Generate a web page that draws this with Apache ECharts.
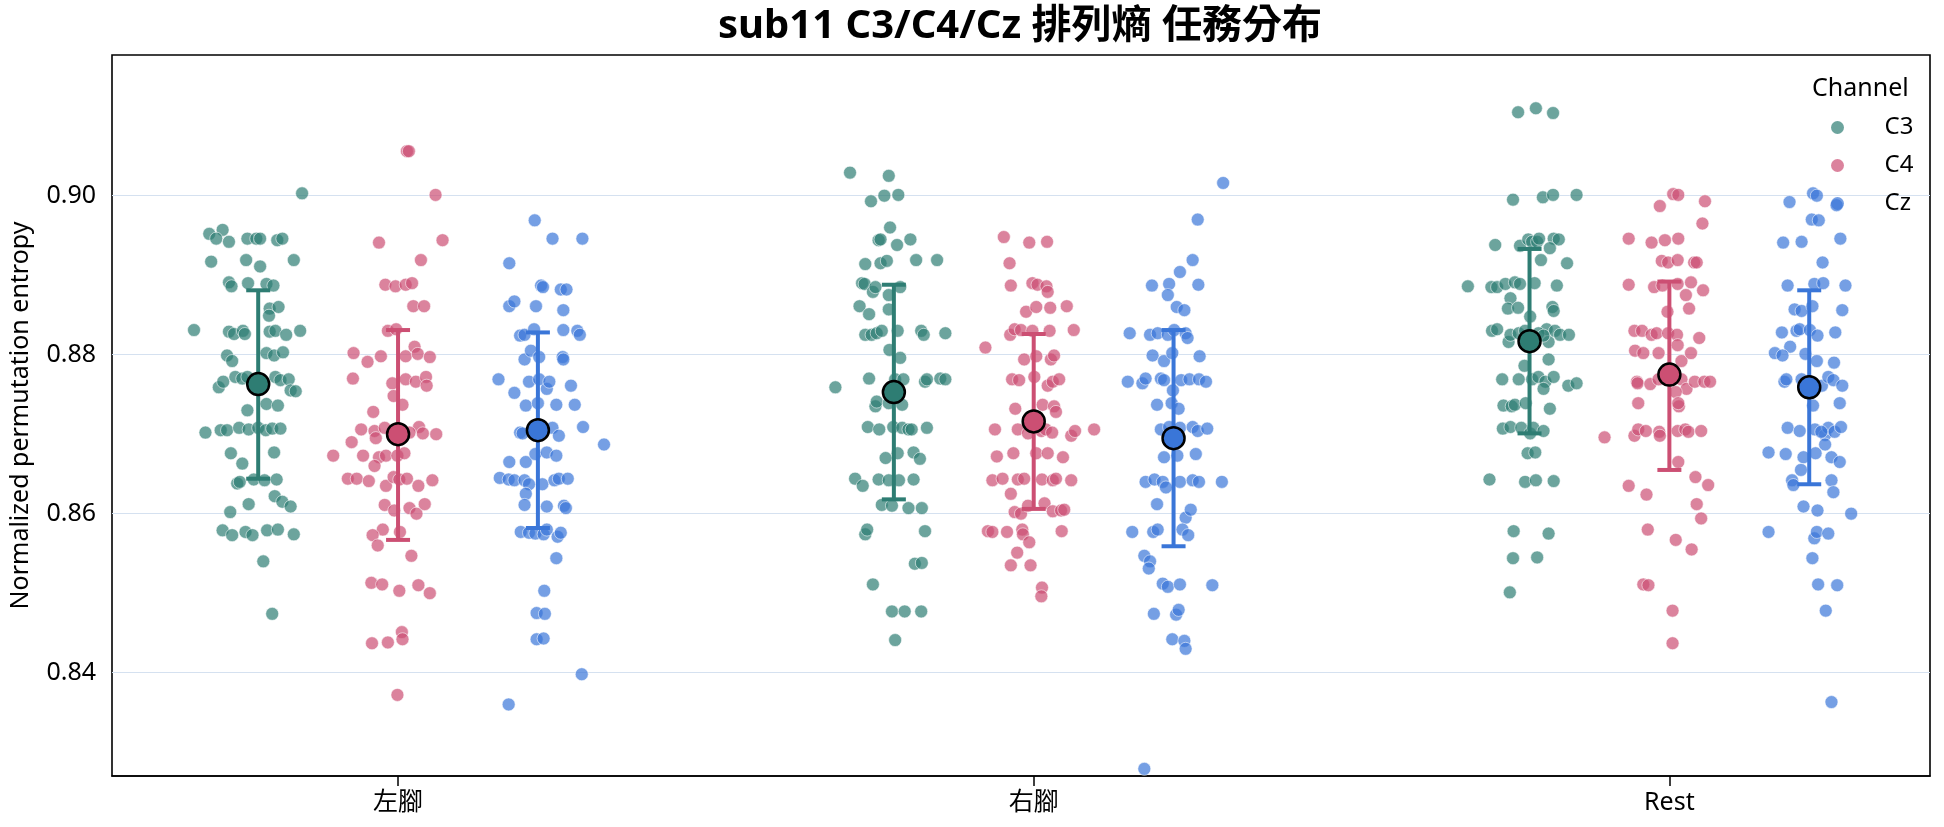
<!DOCTYPE html>
<html>
<head>
<meta charset="utf-8">
<script src="https://cdn.jsdelivr.net/npm/echarts@6/dist/echarts.min.js"></script>
<style>
  html, body { margin: 0; padding: 0; background: #fff; }
  #chart { width: 1944px; height: 827px; }
</style>
</head>
<body>
<div id="chart"></div>
<script>
// categories and hues
const tasks = ["左腳", "右腳", "Rest"];
const channels = ["C3", "C4", "Cz"];
const yTicks = [0.84, 0.86, 0.88, 0.90];

// strip points: [jitter (category units), entropy]
const c3Left = [[0.069,0.9003],[-0.077,0.8952],[-0.056,0.8957],[-0.066,0.8946],[-0.046,0.8942],[-0.017,0.8946],[-0.003,0.8946],[0.003,0.8946],[0.030,0.8944],[0.038,0.8946],
  [-0.074,0.8917],[-0.019,0.8919],[0.003,0.8911],[0.056,0.8919],[-0.046,0.8891],[-0.042,0.8886],[-0.016,0.8890],[0.013,0.8889],[0.024,0.8887],[0.018,0.8858],
  [0.032,0.8860],[0.017,0.8849],[-0.101,0.8831],[-0.046,0.8829],[-0.038,0.8826],[-0.024,0.8830],[-0.021,0.8826],[0.018,0.8829],[0.027,0.8830],[0.044,0.8825],
  [0.066,0.8830],[-0.049,0.8799],[-0.041,0.8792],[0.013,0.8802],[0.025,0.8799],[0.039,0.8803],[-0.062,0.8759],[-0.055,0.8766],[-0.036,0.8772],[-0.025,0.8770],
  [-0.017,0.8772],[0.027,0.8772],[0.035,0.8768],[0.048,0.8769],[0.051,0.8755],[0.059,0.8754],[-0.017,0.8730],[0.013,0.8738],[0.031,0.8736],[-0.083,0.8702],
  [-0.059,0.8705],[-0.049,0.8705],[-0.030,0.8708],[-0.015,0.8706],[0.000,0.8708],[0.012,0.8705],[0.022,0.8707],[0.035,0.8707],[-0.043,0.8676],[0.025,0.8677],
  [-0.025,0.8663],[-0.033,0.8638],[-0.029,0.8640],[-0.007,0.8643],[0.010,0.8642],[0.029,0.8643],[0.026,0.8622],[0.038,0.8615],[0.051,0.8609],[-0.015,0.8612],
  [-0.044,0.8602],[-0.056,0.8579],[-0.041,0.8573],[-0.020,0.8577],[-0.009,0.8573],[0.014,0.8579],[0.031,0.8580],[0.056,0.8574],[0.008,0.8540],[0.022,0.8474]];
const c3Right = [[-0.069,0.9029],[-0.008,0.9025],[-0.036,0.8993],[-0.015,0.9000],[0.007,0.9001],[-0.006,0.8960],[-0.024,0.8944],[-0.021,0.8945],[0.005,0.8938],[0.026,0.8945],
  [-0.045,0.8914],[-0.021,0.8915],[-0.011,0.8918],[0.035,0.8919],[0.068,0.8919],[-0.050,0.8890],[-0.046,0.8889],[-0.033,0.8879],[-0.029,0.8885],[-0.008,0.8875],
  [0.010,0.8885],[-0.054,0.8861],[-0.039,0.8851],[-0.008,0.8857],[-0.045,0.8825],[-0.035,0.8825],[-0.027,0.8827],[-0.019,0.8830],[0.006,0.8830],[0.043,0.8830],
  [0.047,0.8825],[0.081,0.8827],[-0.007,0.8806],[0.010,0.8796],[-0.092,0.8759],[-0.039,0.8770],[0.002,0.8769],[0.015,0.8769],[0.049,0.8766],[0.052,0.8769],
  [0.073,0.8770],[0.081,0.8769],[-0.029,0.8735],[-0.027,0.8741],[-0.008,0.8739],[0.013,0.8737],[-0.041,0.8709],[-0.023,0.8706],[-0.001,0.8709],[0.013,0.8708],
  [0.023,0.8706],[0.028,0.8706],[0.052,0.8708],[-0.013,0.8670],[0.006,0.8676],[0.031,0.8677],[0.041,0.8669],[-0.061,0.8644],[-0.049,0.8635],[-0.024,0.8643],
  [-0.008,0.8642],[0.008,0.8642],[0.031,0.8643],[-0.019,0.8611],[-0.003,0.8610],[0.023,0.8607],[0.044,0.8607],[-0.045,0.8574],[-0.042,0.8580],[0.049,0.8578],
  [0.033,0.8537],[0.044,0.8538],[-0.033,0.8511],[-0.003,0.8477],[0.017,0.8477],[0.043,0.8477],[0.002,0.8441]];
const c3Rest = [[-0.018,0.9105],[0.010,0.9110],[0.037,0.9104],[-0.026,0.8995],[0.021,0.8998],[0.037,0.9001],[0.074,0.9001],[-0.054,0.8938],[-0.015,0.8937],[-0.002,0.8945],
  [0.004,0.8942],[0.012,0.8942],[0.015,0.8946],[0.038,0.8946],[0.046,0.8945],[0.032,0.8934],[0.018,0.8919],[0.059,0.8915],[-0.097,0.8886],[-0.060,0.8885],
  [-0.051,0.8885],[-0.038,0.8889],[-0.023,0.8891],[-0.015,0.8889],[0.008,0.8890],[0.043,0.8887],[-0.030,0.8871],[-0.034,0.8858],[-0.018,0.8859],[0.036,0.8860],
  [0.038,0.8855],[0.001,0.8848],[-0.059,0.8830],[-0.051,0.8832],[-0.033,0.8816],[-0.030,0.8825],[-0.017,0.8827],[-0.007,0.8830],[0.027,0.8832],[0.030,0.8816],
  [0.040,0.8830],[0.048,0.8825],[0.062,0.8825],[0.014,0.8827],[0.022,0.8824],[0.030,0.8794],[-0.008,0.8786],[-0.043,0.8769],[-0.017,0.8769],[0.004,0.8769],
  [0.014,0.8772],[0.025,0.8766],[0.038,0.8772],[0.022,0.8757],[0.061,0.8761],[0.074,0.8764],[-0.041,0.8736],[-0.028,0.8735],[-0.023,0.8737],[-0.006,0.8739],
  [0.032,0.8732],[-0.042,0.8707],[-0.030,0.8709],[-0.013,0.8708],[0.001,0.8701],[0.006,0.8708],[0.022,0.8704],[-0.003,0.8676],[0.009,0.8677],[-0.063,0.8643],
  [-0.007,0.8640],[0.010,0.8642],[0.038,0.8641],[-0.025,0.8578],[0.030,0.8575],[-0.026,0.8544],[0.012,0.8545],[-0.031,0.8501]];

const c4Left = [[0.014,0.9056],[0.017,0.9056],[0.059,0.9001],[-0.030,0.8941],[0.070,0.8944],[0.036,0.8919],[-0.020,0.8888],[-0.004,0.8886],[0.012,0.8888],[0.022,0.8890],
  [0.024,0.8861],[0.041,0.8861],[-0.016,0.8830],[-0.003,0.8832],[-0.070,0.8802],[-0.048,0.8791],[-0.027,0.8798],[0.012,0.8798],[0.026,0.8810],[0.031,0.8801],
  [0.050,0.8797],[-0.071,0.8770],[-0.009,0.8764],[-0.007,0.8748],[0.012,0.8769],[0.028,0.8766],[0.044,0.8772],[0.045,0.8761],[-0.039,0.8728],[0.007,0.8737],
  [-0.058,0.8706],[-0.037,0.8704],[-0.021,0.8708],[-0.035,0.8695],[0.033,0.8709],[0.039,0.8701],[0.060,0.8700],[0.018,0.8702],[-0.102,0.8673],[-0.073,0.8690],
  [-0.055,0.8673],[-0.030,0.8671],[-0.019,0.8673],[-0.001,0.8673],[0.010,0.8676],[-0.037,0.8660],[-0.079,0.8644],[-0.065,0.8644],[-0.046,0.8641],[-0.019,0.8635],
  [-0.007,0.8646],[0.002,0.8643],[0.014,0.8644],[0.032,0.8635],[0.054,0.8642],[-0.021,0.8611],[-0.006,0.8604],[0.018,0.8607],[0.029,0.8600],[0.042,0.8612],
  [-0.024,0.8580],[-0.040,0.8573],[-0.032,0.8560],[0.003,0.8577],[0.021,0.8547],[-0.042,0.8513],[-0.025,0.8511],[0.002,0.8503],[0.032,0.8510],[0.050,0.8500],
  [-0.041,0.8437],[-0.016,0.8438],[0.006,0.8451],[0.007,0.8442],[-0.001,0.8372]];
const c4Right = [[-0.047,0.8948],[-0.007,0.8941],[0.021,0.8942],[-0.038,0.8915],[-0.036,0.8887],[-0.002,0.8890],[0.006,0.8888],[0.020,0.8886],[0.022,0.8879],[-0.012,0.8854],
  [0.004,0.8860],[0.026,0.8859],[0.052,0.8861],[-0.076,0.8809],[-0.037,0.8825],[-0.030,0.8832],[-0.020,0.8831],[-0.002,0.8830],[0.025,0.8830],[0.063,0.8831],
  [-0.015,0.8794],[0.004,0.8798],[0.027,0.8794],[0.032,0.8799],[-0.034,0.8769],[-0.023,0.8768],[0.001,0.8772],[0.022,0.8761],[0.030,0.8766],[0.040,0.8769],
  [-0.029,0.8732],[0.014,0.8737],[0.032,0.8735],[0.035,0.8728],[-0.061,0.8706],[-0.025,0.8706],[-0.009,0.8701],[0.012,0.8704],[0.019,0.8706],[0.029,0.8702],
  [0.059,0.8698],[0.065,0.8704],[0.095,0.8706],[-0.058,0.8672],[-0.032,0.8676],[0.004,0.8676],[0.022,0.8676],[0.046,0.8671],[-0.065,0.8642],[-0.049,0.8644],
  [-0.025,0.8643],[-0.015,0.8644],[0.013,0.8643],[0.030,0.8642],[0.035,0.8644],[0.059,0.8642],[-0.036,0.8625],[-0.030,0.8602],[-0.020,0.8600],[-0.009,0.8610],
  [0.017,0.8613],[0.030,0.8603],[0.043,0.8604],[0.048,0.8605],[-0.072,0.8578],[-0.065,0.8577],[-0.042,0.8577],[-0.018,0.8580],[-0.017,0.8574],[0.044,0.8578],
  [-0.007,0.8564],[-0.026,0.8551],[-0.036,0.8535],[-0.005,0.8535],[0.013,0.8507],[0.012,0.8496]];
const c4Rest = [[0.006,0.9002],[0.014,0.9001],[-0.015,0.8987],[0.056,0.8993],[0.052,0.8965],[-0.064,0.8946],[-0.028,0.8941],[-0.007,0.8944],[0.014,0.8946],[-0.012,0.8918],
  [-0.002,0.8916],[0.013,0.8919],[0.039,0.8916],[0.043,0.8916],[-0.064,0.8888],[-0.024,0.8885],[-0.011,0.8887],[0.013,0.8889],[0.034,0.8891],[0.026,0.8875],
  [0.053,0.8881],[-0.003,0.8854],[0.031,0.8858],[-0.055,0.8830],[-0.043,0.8830],[-0.028,0.8825],[-0.020,0.8827],[-0.002,0.8827],[0.012,0.8825],[0.047,0.8821],
  [0.013,0.8812],[-0.054,0.8805],[-0.041,0.8802],[-0.017,0.8802],[0.019,0.8792],[0.034,0.8802],[-0.051,0.8766],[-0.050,0.8764],[-0.030,0.8763],[-0.017,0.8769],
  [0.019,0.8769],[0.027,0.8757],[0.040,0.8766],[0.055,0.8766],[0.064,0.8766],[0.010,0.8753],[-0.049,0.8739],[0.015,0.8735],[0.014,0.8739],[-0.102,0.8696],
  [-0.055,0.8698],[-0.049,0.8706],[-0.037,0.8704],[-0.016,0.8703],[-0.015,0.8698],[0.013,0.8704],[0.025,0.8706],[0.030,0.8703],[0.050,0.8704],[0.014,0.8665],
  [-0.064,0.8635],[-0.036,0.8624],[0.041,0.8646],[0.061,0.8636],[0.043,0.8612],[0.050,0.8594],[-0.034,0.8580],[0.010,0.8567],[0.035,0.8555],[-0.041,0.8511],
  [-0.033,0.8510],[0.005,0.8478],[0.005,0.8437]];

const czLeft = [[-0.005,0.8969],[0.023,0.8946],[0.070,0.8946],[-0.045,0.8915],[0.005,0.8887],[0.008,0.8885],[0.036,0.8882],[0.045,0.8882],[-0.045,0.8861],[-0.037,0.8867],
  [-0.003,0.8861],[0.040,0.8856],[-0.028,0.8824],[-0.021,0.8825],[-0.006,0.8832],[0.040,0.8831],[0.062,0.8830],[0.066,0.8825],[-0.021,0.8794],[-0.011,0.8805],
  [0.002,0.8797],[0.039,0.8797],[0.040,0.8794],[-0.062,0.8769],[-0.014,0.8766],[0.002,0.8769],[0.014,0.8757],[0.018,0.8766],[0.052,0.8761],[-0.037,0.8752],
  [-0.019,0.8736],[0.000,0.8739],[0.029,0.8737],[0.058,0.8737],[-0.028,0.8702],[-0.024,0.8701],[0.023,0.8708],[0.033,0.8698],[0.071,0.8709],[0.104,0.8687],
  [-0.045,0.8665],[-0.019,0.8665],[-0.004,0.8675],[0.014,0.8677],[0.029,0.8673],[-0.060,0.8645],[-0.046,0.8643],[-0.037,0.8642],[-0.021,0.8642],[-0.014,0.8637],
  [0.007,0.8637],[0.026,0.8642],[0.033,0.8644],[0.047,0.8644],[-0.019,0.8625],[-0.021,0.8611],[0.014,0.8609],[0.041,0.8610],[0.044,0.8607],[-0.027,0.8577],
  [-0.014,0.8576],[-0.004,0.8575],[0.009,0.8574],[0.014,0.8580],[0.031,0.8571],[0.036,0.8576],[0.029,0.8544],[0.010,0.8503],[-0.002,0.8475],[0.011,0.8474],
  [-0.002,0.8442],[0.009,0.8443],[0.069,0.8398],[-0.046,0.8360]];
const czRight = [[0.078,0.9016],[0.038,0.8970],[0.030,0.8919],[0.010,0.8904],[-0.034,0.8887],[-0.007,0.8889],[-0.009,0.8875],[0.039,0.8888],[0.005,0.8860],[0.017,0.8856],
  [-0.069,0.8827],[-0.037,0.8825],[-0.025,0.8827],[-0.009,0.8825],[0.001,0.8831],[0.019,0.8827],[0.022,0.8821],[-0.033,0.8799],[-0.015,0.8792],[-0.002,0.8802],
  [0.041,0.8798],[-0.072,0.8766],[-0.049,0.8764],[-0.044,0.8770],[-0.020,0.8770],[-0.015,0.8768],[-0.001,0.8755],[0.012,0.8768],[0.025,0.8769],[0.040,0.8769],
  [0.051,0.8766],[-0.026,0.8737],[-0.003,0.8739],[0.008,0.8732],[-0.020,0.8706],[-0.007,0.8709],[0.010,0.8708],[0.030,0.8709],[0.038,0.8704],[0.053,0.8707],
  [-0.015,0.8671],[0.006,0.8673],[0.035,0.8675],[-0.044,0.8640],[-0.030,0.8643],[-0.017,0.8640],[-0.012,0.8633],[0.010,0.8640],[0.030,0.8642],[0.040,0.8640],
  [0.076,0.8640],[-0.026,0.8612],[0.019,0.8595],[0.027,0.8605],[-0.065,0.8577],[-0.032,0.8577],[-0.025,0.8580],[0.014,0.8580],[0.023,0.8573],[-0.046,0.8547],
  [-0.037,0.8540],[-0.039,0.8531],[-0.017,0.8512],[-0.009,0.8508],[0.010,0.8511],[0.061,0.8510],[-0.031,0.8474],[0.004,0.8473],[0.008,0.8479],[-0.002,0.8442],
  [0.017,0.8440],[0.019,0.8430],[-0.046,0.8279]];
const czRest = [[0.006,0.9003],[0.012,0.9000],[-0.031,0.8992],[0.043,0.8988],[0.004,0.8970],[0.015,0.8969],[-0.041,0.8941],[-0.012,0.8942],[0.049,0.8946],[0.021,0.8916],
  [-0.034,0.8887],[0.008,0.8889],[0.022,0.8890],[0.057,0.8887],[-0.023,0.8857],[-0.012,0.8855],[0.005,0.8861],[0.052,0.8856],[-0.043,0.8828],[-0.020,0.8830],
  [-0.015,0.8832],[0.001,0.8831],[0.013,0.8824],[0.041,0.8828],[-0.030,0.8810],[-0.054,0.8802],[-0.042,0.8799],[-0.006,0.8801],[0.012,0.8792],[0.039,0.8790],
  [-0.039,0.8766],[-0.036,0.8769],[-0.012,0.8769],[0.020,0.8761],[0.030,0.8772],[0.038,0.8768],[0.052,0.8761],[0.006,0.8736],[0.048,0.8739],[-0.034,0.8708],
  [-0.015,0.8704],[0.009,0.8706],[0.025,0.8699],[0.030,0.8708],[0.040,0.8703],[0.050,0.8709],[0.019,0.8703],[-0.064,0.8677],[-0.037,0.8675],[-0.009,0.8671],
  [0.010,0.8676],[0.025,0.8687],[0.035,0.8671],[0.048,0.8665],[-0.013,0.8655],[-0.027,0.8642],[-0.025,0.8636],[0.035,0.8642],[0.038,0.8627],[-0.009,0.8609],
  [0.013,0.8604],[0.066,0.8600],[-0.064,0.8577],[0.008,0.8569],[0.012,0.8577],[0.030,0.8575],[0.005,0.8544],[0.014,0.8511],[0.044,0.8510],[0.026,0.8478],
  [0.035,0.8363]];

// mean and error-bar ends per task (左腳, 右腳, Rest)
const c3Mean = [0.8763, 0.8753, 0.8817];
const c3Low = [0.8644, 0.8618, 0.8701];
const c3High = [0.8881, 0.8888, 0.8933];
const c4Mean = [0.8700, 0.8716, 0.8775];
const c4Low = [0.8567, 0.8606, 0.8655];
const c4High = [0.8831, 0.8826, 0.8892];
const czMean = [0.8705, 0.8695, 0.8759];
const czLow = [0.8582, 0.8559, 0.8637];
const czHigh = [0.8828, 0.8831, 0.8881];

const stripData = [[c3Left, c3Right, c3Rest], [c4Left, c4Right, c4Rest], [czLeft, czRight, czRest]];
const meanData = [c3Mean, c4Mean, czMean];
const lowData = [c3Low, c4Low, czLow];
const highData = [c3High, c4High, czHigh];

const solid = ["#2e7d73", "#cc4f73", "#3a76d8"];
const dodge = [-0.22, 0, 0.22];
const font = '"Noto Sans", "Noto Sans CJK TC", sans-serif';

const chart = echarts.init(document.getElementById("chart"), null, { renderer: "canvas" });

const series = [];
channels.forEach((ch, i) => {
  const pts = [];
  stripData[i].forEach((arr, t) => {
    arr.forEach(([j, v]) => pts.push([t + dodge[i] + j, v]));
  });
  series.push({
    name: ch,
    type: "scatter",
    data: pts,
    symbolSize: 13,
    z: 2,
    itemStyle: { color: solid[i], opacity: 0.7, borderColor: "#fff", borderWidth: 0.8 },
    emphasis: { disabled: true },
  });
});
channels.forEach((ch, i) => {
  series.push({
    name: ch,
    type: "custom",
    z: 3,
    data: tasks.map((_, t) => [t + dodge[i], lowData[i][t], highData[i][t]]),
    renderItem: (params, api) => {
      const lo = api.coord([api.value(0), api.value(1)]);
      const hi = api.coord([api.value(0), api.value(2)]);
      const cap = 12;
      const st = { stroke: solid[i], lineWidth: 4 };
      return {
        type: "group",
        children: [
          { type: "line", shape: { x1: lo[0], y1: lo[1], x2: hi[0], y2: hi[1] }, style: st },
          { type: "line", shape: { x1: lo[0] - cap, y1: lo[1], x2: lo[0] + cap, y2: lo[1] }, style: st },
          { type: "line", shape: { x1: hi[0] - cap, y1: hi[1], x2: hi[0] + cap, y2: hi[1] }, style: st },
        ],
      };
    },
  });
  series.push({
    name: ch,
    type: "scatter",
    z: 4,
    symbolSize: 22,
    data: tasks.map((_, t) => [t + dodge[i], meanData[i][t]]),
    itemStyle: { color: solid[i], borderColor: "#000", borderWidth: 2.5, opacity: 1 },
    emphasis: { disabled: true },
  });
});

const option = {
  animation: false,
  textStyle: { fontFamily: font },
  grid: {
    left: 110, right: 14, top: 55, bottom: 51,
    show: true, borderColor: "#000", borderWidth: 1.6, backgroundColor: "#fff",
  },
  legend: {
    orient: "vertical",
    left: 1831,
    top: 115,
    padding: 0,
    itemGap: 13,
    itemWidth: 84,
    itemHeight: 13,
    icon: "circle",
    textStyle: { fontFamily: font, fontSize: 24, color: "#000", lineHeight: 25 },
    data: channels.map((ch, i) => ({ name: ch, itemStyle: { color: solid[i], opacity: 0.7, borderWidth: 0 } })),
    selectedMode: false,
  },
  graphic: [
    {
      type: "text",
      x: 1020,
      y: 27,
      style: {
        text: "sub11 C3/C4/Cz 排列熵 任務分布",
        font: "bold 40px " + font,
        fill: "#000",
        align: "center",
        verticalAlign: "middle",
      },
    },
    {
      type: "text",
      x: 1812,
      y: 89,
      style: { text: "Channel", font: "25px " + font, fill: "#000", verticalAlign: "middle" },
    },
  ],
  xAxis: {
    type: "value",
    min: -0.45,
    max: 2.41,
    splitLine: { show: false },
    axisLine: { show: true, lineStyle: { color: "#000", width: 1.6 } },
    axisTick: { show: true, customValues: [0, 1, 2], length: 10, lineStyle: { color: "#000", width: 1.5 } },
    axisLabel: {
      customValues: [0, 1, 2],
      formatter: (v) => tasks[Math.round(v)],
      fontSize: 25, color: "#000", margin: 14, fontFamily: font,
    },
  },
  yAxis: {
    type: "value",
    min: 0.827,
    max: 0.9177,
    name: "Normalized permutation entropy",
    nameLocation: "middle",
    nameGap: 79,
    nameTextStyle: { fontSize: 25, color: "#000", fontFamily: font },
    axisLine: { show: false },
    axisTick: { show: false, customValues: yTicks },
    splitLine: { show: true, lineStyle: { color: "#d5e1f0", width: 1.2 } },
    axisLabel: {
      customValues: yTicks,
      formatter: (v) => v.toFixed(2),
      fontSize: 25, color: "#000", margin: 16, fontFamily: font,
    },
  },
  series: series,
};

chart.setOption(option);
window.addEventListener("resize", () => chart.resize());
</script>
</body>
</html>
